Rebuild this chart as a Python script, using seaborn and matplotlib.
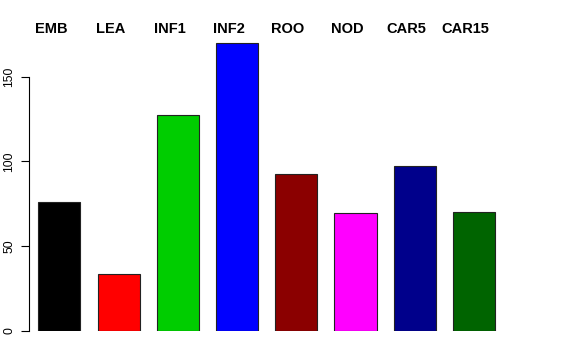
import matplotlib as mpl
mpl.use('agg')
import matplotlib.pyplot as plt
import pandas as pd
import seaborn as sns

# data
tissues = ['EMB', 'LEA', 'INF1', 'INF2', 'ROO', 'NOD', 'CAR5', 'CAR15']
counts = [75.9, 33.4, 127.4, 169.8, 92.7, 69.4, 97.3, 70.2]
colors = ['#000000', '#FF0000', '#00CD00', '#0000FF', '#8B0000', '#FF00FF', '#00008B', '#006400']
yticks = [0, 50, 100, 150]

df = pd.DataFrame({'tissue': tissues, 'count': counts})

sns.set_style('white')
plt.rcParams['font.family'] = ['Liberation Sans', 'DejaVu Sans']
plt.rcParams['text.color'] = 'black'
plt.rcParams['ytick.color'] = 'black'

fig = plt.figure(figsize=(5.76, 3.6), dpi=100)
ax = fig.add_axes([0.0509, 0.0806, 0.8866, 0.8639])

sns.barplot(data=df, x='tissue', y='count', hue='tissue', palette=colors,
            legend=False, width=0.71, edgecolor='#222222', linewidth=0.8,
            saturation=1, ax=ax)

ax.set_xlim(-0.506, 8.114)
ax.set_ylim(0, 183.4)

# tissue names above the bars
for i, name in enumerate(tissues):
    ax.text(i - 0.14, 178, name, ha='center', va='center', color='black',
            fontsize=10.5, fontweight='bold', clip_on=False)

# R style axis
ax.set_xticks([])
ax.set_yticks(yticks)
ax.set_yticklabels([str(t) for t in yticks], rotation=90, va='center',
                   fontsize=8.8, color='black')
ax.tick_params(axis='y', left=True, length=5.8, width=0.8, pad=4.5, color='black')
ax.set_xlabel('')
ax.set_ylabel('')
for s in ['top', 'right', 'bottom']:
    ax.spines[s].set_visible(False)
ax.spines['left'].set_bounds(0, 150)
ax.spines['left'].set_color('black')
ax.spines['left'].set_linewidth(0.8)

plt.savefig('out.png', dpi=100)
